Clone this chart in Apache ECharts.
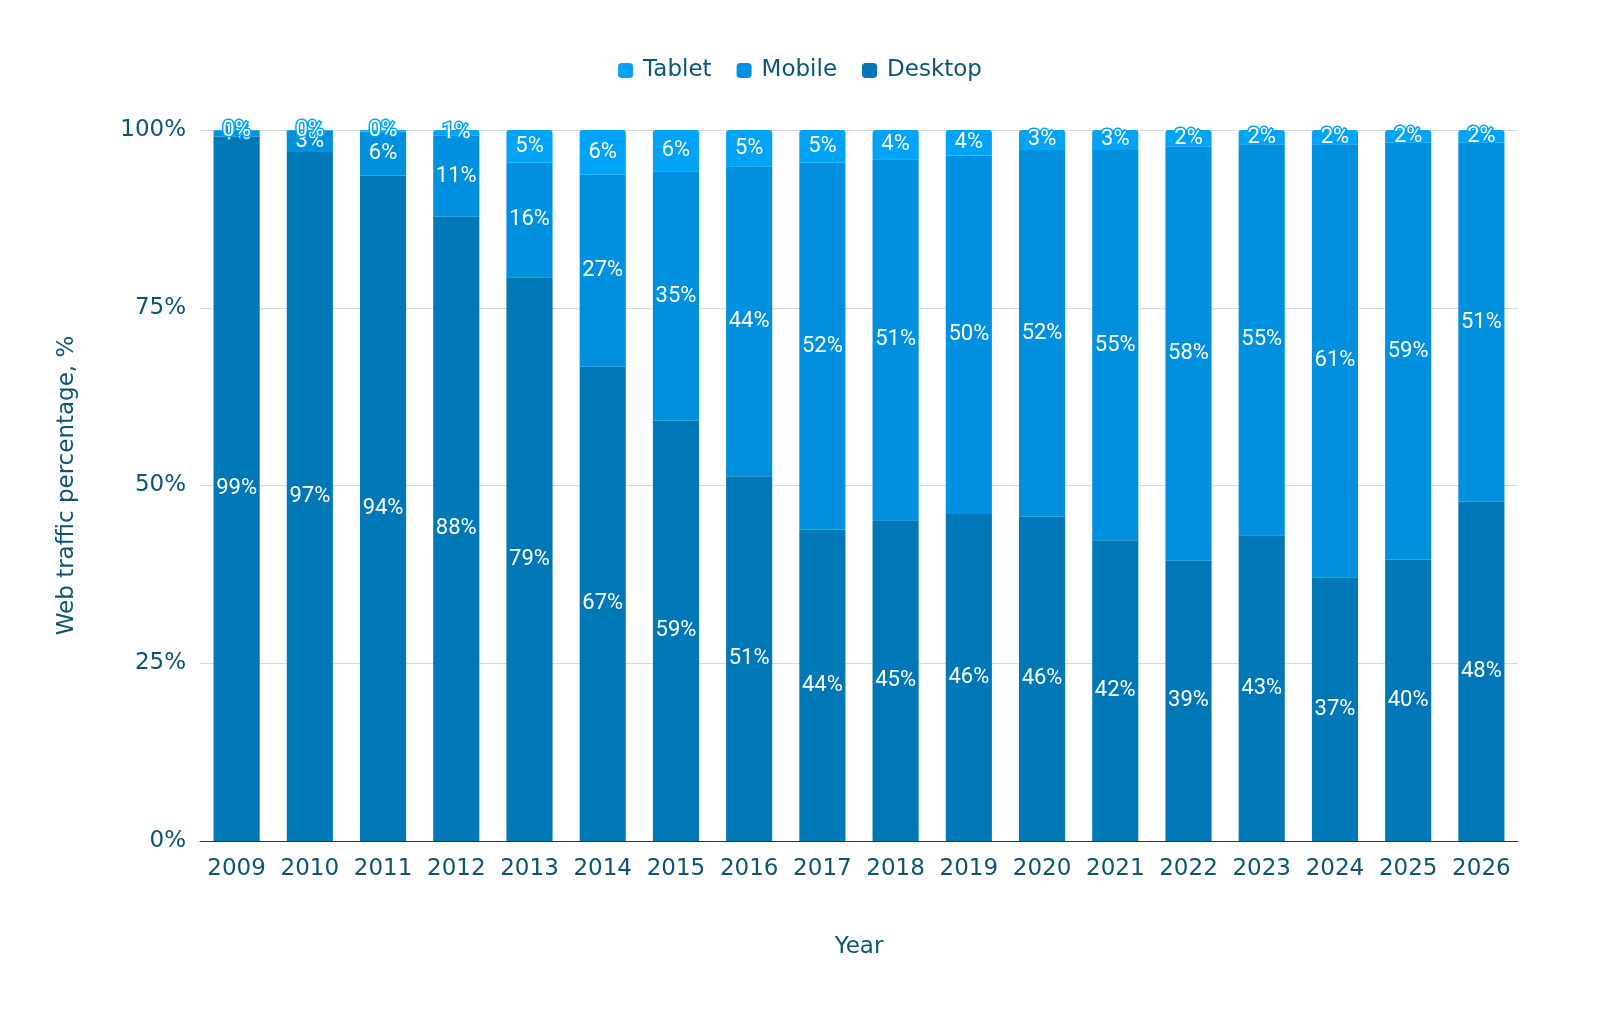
<!DOCTYPE html>
<html>
<head>
<meta charset="utf-8">
<script src="https://cdn.jsdelivr.net/npm/echarts@6/dist/echarts.min.js"></script>
<style>html,body{margin:0;padding:0;background:#fff;}#c{width:1600px;height:1021px;}</style>
</head>
<body>
<div id="c"></div>
<script>
const years = ['2009','2010','2011','2012','2013','2014','2015','2016','2017','2018','2019','2020','2021','2022','2023','2024','2025','2026'];
const desktop = [99.1, 96.9, 93.6, 87.8, 79.3, 66.7, 59.1, 51.3, 43.8, 45.1, 46.0, 45.6, 42.3, 39.4, 43.0, 37.1, 39.6, 47.7];
const mobile  = [0.8, 3.0, 6.2, 11.4, 16.1, 27.0, 35.1, 43.6, 51.6, 50.8, 50.4, 51.6, 54.9, 58.3, 55.0, 60.9, 58.6, 50.5];
const tablet  = [0.1, 0.1, 0.2, 0.8, 4.6, 6.3, 5.8, 5.1, 4.6, 4.1, 3.6, 2.8, 2.8, 2.3, 2.0, 2.0, 1.8, 1.8];
const yTicks = [0, 25, 50, 75, 100];

const colors = {Desktop: '#0077b6', Mobile: '#0090dd', Tablet: '#00a3f5'};
const textColor = '#0d5474';

function mkSeries(name, data, radius) {
  return {
    name: name, type: 'bar', stack: 'total', data: data, barWidth: '63%',
    itemStyle: {color: colors[name], borderRadius: radius},
    label: {
      show: true, position: 'inside', color: '#fff',
      fontFamily: 'Roboto', fontSize: 22,
      textBorderColor: colors[name], textBorderWidth: 3,
      formatter: p => Math.round(p.value) + '%'
    }
  };
}

const chart = echarts.init(document.getElementById('c'));
chart.setOption({
  animation: false,
  legend: {
    data: ['Tablet', 'Mobile', 'Desktop'], top: 54, left: 'center',
    icon: 'roundRect', itemWidth: 15, itemHeight: 15, itemGap: 25,
    textStyle: {fontFamily: 'DejaVu Sans', fontSize: 23, color: textColor, padding: [0, 0, 0, 5]}
  },
  grid: {left: 200, right: 82, top: 130, bottom: 180, containLabel: false},
  xAxis: {
    type: 'category', data: years,
    name: 'Year', nameLocation: 'middle', nameGap: 95,
    nameTextStyle: {fontFamily: 'DejaVu Sans', fontSize: 23, color: textColor},
    axisLine: {lineStyle: {color: '#333', width: 1}},
    axisTick: {show: false},
    axisLabel: {interval: 0, fontFamily: 'DejaVu Sans', fontSize: 23, color: textColor, margin: 17}
  },
  yAxis: {
    type: 'value', min: 0, max: 100, interval: 25,
    name: 'Web traffic percentage, %', nameLocation: 'middle', nameGap: 121,
    nameTextStyle: {fontFamily: 'DejaVu Sans', fontSize: 23, color: textColor},
    axisLine: {show: false}, axisTick: {show: false},
    splitLine: {lineStyle: {color: '#d9d9d9', width: 1}},
    axisLabel: {fontFamily: 'DejaVu Sans', fontSize: 23, color: textColor, margin: 14,
      formatter: v => yTicks.includes(v) ? v + '%' : ''}
  },
  series: [
    mkSeries('Desktop', desktop, 0),
    mkSeries('Mobile', mobile, 0),
    mkSeries('Tablet', tablet, [3, 3, 0, 0])
  ]
});
</script>
</body>
</html>
